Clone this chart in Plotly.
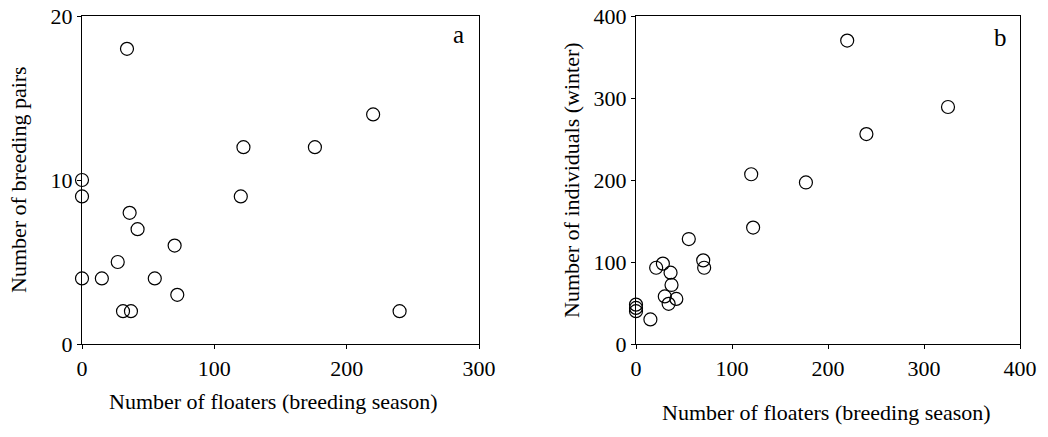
import plotly.graph_objects as go

# Panel a: floaters (breeding season) vs breeding pairs
a_floaters = [34, 220, 122, 176, 0, 0, 120, 36, 42, 70, 27, 0, 15, 55, 72, 31, 37, 240]
a_pairs = [18, 14, 12, 12, 10, 9, 9, 8, 7, 6, 5, 4, 4, 4, 3, 2, 2, 2]

# Panel b: floaters (breeding season) vs individuals (winter)
b_floaters = [220, 325, 240, 120, 177, 122, 55, 70, 71, 28, 21, 36, 37, 30, 42, 34, 15, 0, 0, 0]
b_winter = [370, 289, 256, 207, 197, 142, 128, 102, 93, 98, 93, 87, 72, 58, 55, 49, 30, 48, 44, 40]

a_xticks = [0, 100, 200, 300]
a_yticks = [0, 10, 20]
b_xticks = [0, 100, 200, 300, 400]
b_yticks = [0, 100, 200, 300, 400]

FONT = "Liberation Serif"
W, H = 1048, 437


def px(x):
    return x / W


def py(y):
    return 1 - y / H


marker = dict(symbol="circle-open", size=13, color="black", line=dict(width=1.2, color="black"))

fig = go.Figure()
fig.add_trace(go.Scatter(x=a_floaters, y=a_pairs, mode="markers", marker=marker,
                         xaxis="x", yaxis="y", cliponaxis=False, showlegend=False))
fig.add_trace(go.Scatter(x=b_floaters, y=b_winter, mode="markers", marker=marker,
                         xaxis="x2", yaxis="y2", cliponaxis=False, showlegend=False))

ydom = [py(344), py(16)]
axis_common = dict(showgrid=False, zeroline=False, showline=True, mirror=True,
                   automargin=False, ticklabeloverflow="allow",
                   linecolor="black", linewidth=1.3, ticks="outside", ticklen=4,
                   tickcolor="black", tickfont=dict(family=FONT, size=22, color="black"))

fig.update_layout(
    template="none",
    width=W, height=H,
    margin=dict(l=0, r=0, t=0, b=0, autoexpand=False),
    paper_bgcolor="white", plot_bgcolor="white",
    font=dict(family=FONT, color="black"),
    xaxis=dict(domain=[px(82), px(479)], range=[0, 300], tickvals=a_xticks,
               anchor="y", **axis_common),
    yaxis=dict(domain=ydom, range=[0, 20], tickvals=a_yticks, anchor="x", **axis_common),
    xaxis2=dict(domain=[px(636), px(1020)], range=[0, 400], tickvals=b_xticks,
                anchor="y2", **axis_common),
    yaxis2=dict(domain=ydom, range=[0, 400], tickvals=b_yticks, anchor="x2", **axis_common),
)

ann = [
    dict(text="a", x=px(458), y=py(35)),
    dict(text="b", x=px(1000), y=py(37)),
]
for a in ann:
    fig.add_annotation(text=a["text"], x=a["x"], y=a["y"], xref="paper", yref="paper",
                       showarrow=False, font=dict(family=FONT, size=25, color="black"),
                       xanchor="center", yanchor="middle")

titles = [
    dict(text="Number of floaters (breeding season)", x=px(273), y=py(401), angle=0),
    dict(text="Number of floaters (breeding season)", x=px(826), y=py(412), angle=0),
    dict(text="Number of breeding pairs", x=px(18), y=py(180), angle=-90),
    dict(text="Number of individuals (winter)", x=px(571), y=py(180), angle=-90),
]
for t in titles:
    fig.add_annotation(text=t["text"], x=t["x"], y=t["y"], xref="paper", yref="paper",
                       textangle=t["angle"], showarrow=False,
                       font=dict(family=FONT, size=22, color="black"),
                       xanchor="center", yanchor="middle")

fig.write_html("out.html", config={"displayModeBar": False},
               post_script="document.body.style.margin='0';")
